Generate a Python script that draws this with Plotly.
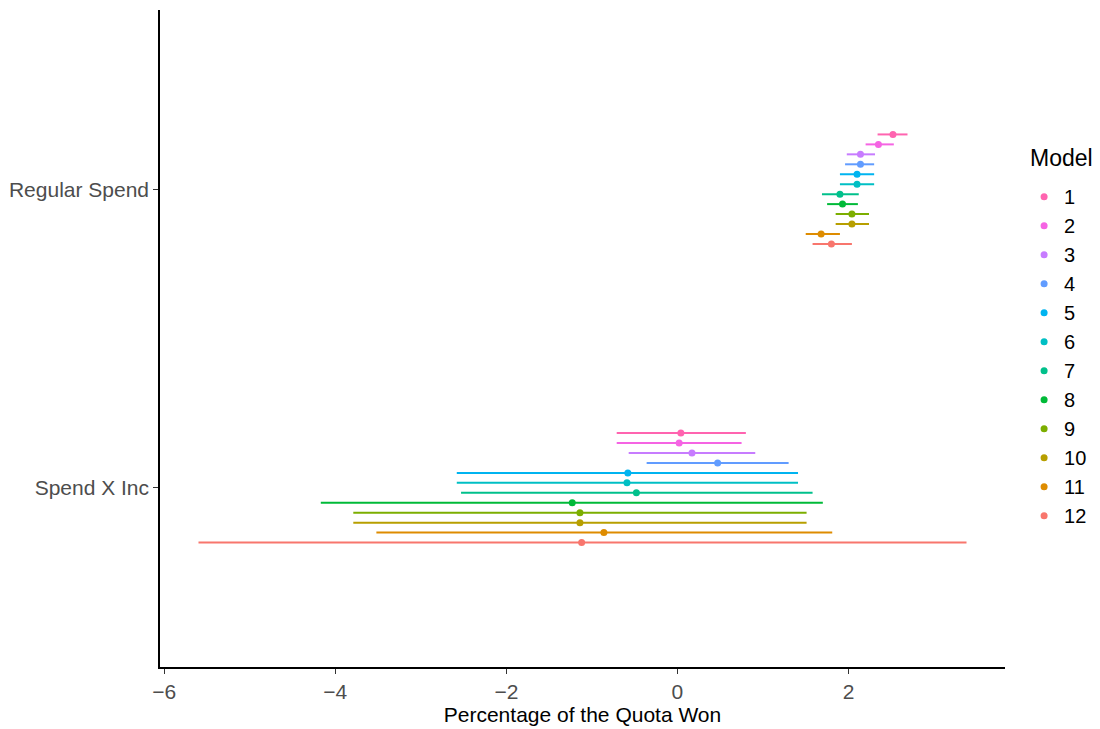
import plotly.graph_objects as go

# Coefficient estimates with confidence limits for each model, by term
terms = ["Spend X Inc", "Regular Spend"]
models = ["1", "2", "3", "4", "5", "6", "7", "8", "9", "10", "11", "12"]

regular_est = [2.52, 2.35, 2.14, 2.14, 2.10, 2.10, 1.90, 1.93, 2.04, 2.04, 1.68, 1.80]
regular_lo = [2.34, 2.20, 1.98, 1.96, 1.90, 1.90, 1.69, 1.75, 1.85, 1.85, 1.50, 1.58]
regular_hi = [2.69, 2.53, 2.31, 2.30, 2.30, 2.30, 2.12, 2.11, 2.24, 2.24, 1.90, 2.04]

inc_est = [0.04, 0.02, 0.17, 0.47, -0.58, -0.59, -0.48, -1.23, -1.14, -1.14, -0.86, -1.12]
inc_lo = [-0.71, -0.71, -0.57, -0.36, -2.58, -2.58, -2.53, -4.17, -3.79, -3.79, -3.52, -5.60]
inc_hi = [0.80, 0.75, 0.91, 1.30, 1.41, 1.41, 1.58, 1.70, 1.51, 1.51, 1.81, 3.38]

colors = ["#FF64B0", "#F564E3", "#C77CFF", "#619CFF", "#00B4F0", "#00BFC4",
          "#00C08B", "#00BA38", "#7CAE00", "#B79F00", "#DE8C00", "#F8766D"]

dodge_width = 0.4
n = len(models)
step = dodge_width / n

fig = go.Figure()
for i, m in enumerate(models):
    offset = (n / 2 - 0.5 - i) * step
    est = [inc_est[i], regular_est[i]]
    lo = [inc_lo[i], regular_lo[i]]
    hi = [inc_hi[i], regular_hi[i]]
    ys = [1 + offset, 2 + offset]
    fig.add_trace(go.Scatter(
        x=est, y=ys, mode="markers", name=m,
        marker=dict(color=colors[i], size=7, symbol="circle"),
        error_x=dict(type="data", symmetric=False,
                     array=[h - e for h, e in zip(hi, est)],
                     arrayminus=[e - l for e, l in zip(est, lo)],
                     color=colors[i], thickness=2, width=0),
    ))

font_family = "Liberation Sans, Arial, sans-serif"

fig.add_annotation(
    text="Model", xref="paper", yref="paper",
    x=1.0275, y=0.775, xanchor="left", yanchor="middle",
    showarrow=False, font=dict(size=23, color="black", family=font_family),
)

fig.update_layout(
    width=1100, height=729,
    margin=dict(l=160, r=95, t=10, b=62),
    paper_bgcolor="white", plot_bgcolor="white",
    showlegend=True,
    legend=dict(
        font=dict(size=20, color="black", family=font_family),
        xref="container", yref="container",
        x=0.931, xanchor="left", y=0.757, yanchor="top",
        itemwidth=30, tracegroupgap=0,
    ),
    xaxis=dict(
        range=[-6.05, 3.83], tickvals=[-6, -4, -2, 0, 2],
        ticktext=["\u22126", "\u22124", "\u22122", "0", "2"],
        showgrid=False, zeroline=False, automargin=False,
        showline=True, linecolor="black", linewidth=1.5,
        ticks="outside", ticklen=5, tickcolor="#333333", tickwidth=1,
        tickfont=dict(size=21, color="#4D4D4D", family=font_family),
        title=dict(text="Percentage of the Quota Won", standoff=5,
                   font=dict(size=21, color="black", family=font_family)),
    ),
    yaxis=dict(
        range=[0.4, 2.6], tickvals=[1, 2], ticktext=terms,
        showgrid=False, zeroline=False, automargin=False,
        showline=True, linecolor="black", linewidth=1.5,
        ticks="outside", ticklen=5, tickcolor="#333333", tickwidth=1,
        tickfont=dict(size=21, color="#4D4D4D", family=font_family),
    ),
)

fig.write_html("out.html")
